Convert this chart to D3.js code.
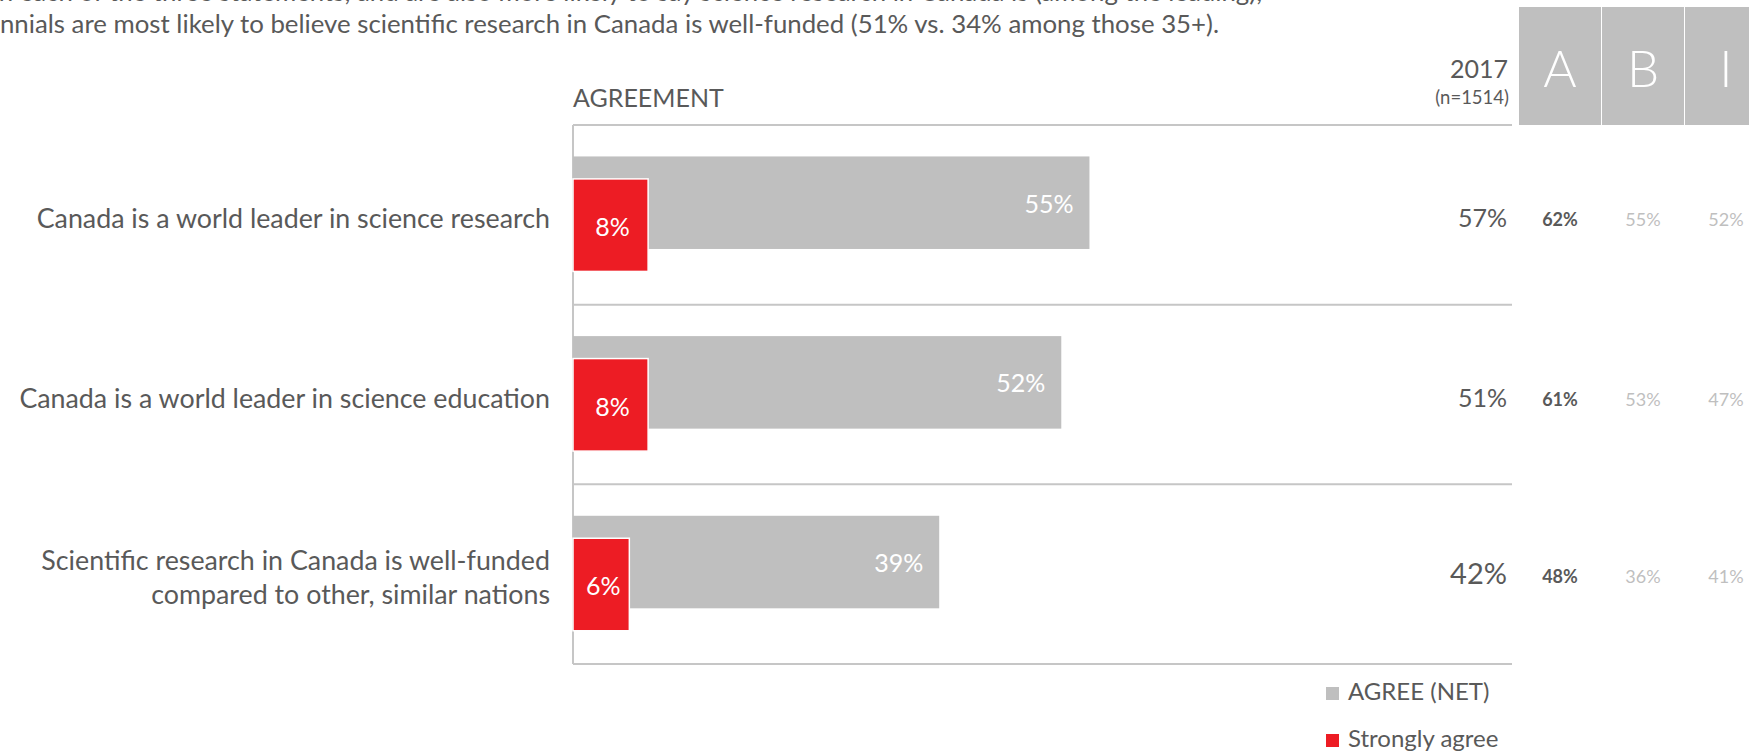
<!DOCTYPE html>
<html>
<head>
<meta charset="utf-8">
<script src="https://cdn.jsdelivr.net/npm/d3@7"></script>
<style>
  html, body { margin: 0; padding: 0; background: #fff; }
  svg { display: block; }
  text { font-family: Lato, "Open Sans", sans-serif; }
</style>
</head>
<body>
<svg id="chart" width="1749" height="754"></svg>
<script>
// Survey statements and agreement shares (%)
const categories = [
  "Canada is a world leader in science research",
  "Canada is a world leader in science education",
  "Scientific research in Canada is well-funded\ncompared to other, similar nations"
];
const agreeNet = [55, 52, 39];
const stronglyAgree = [8, 8, 6];

// Right-hand table: 2017 total and three sub-groups
const totalYear = "2017";
const totalBase = "(n=1514)";
const total2017 = [57, 51, 42];
const groupLabels = ["A", "B", "I"];
const groupA = [62, 61, 48];
const groupB = [55, 53, 36];
const groupI = [52, 47, 41];

const seriesNames = ["AGREE (NET)", "Strongly agree"];
const subtitleLines = [
  "Millennials are more likely to agree with each of the three statements, and are also more likely to say science research in Canada is (among the leading),",
  "Millennials are most likely to believe scientific research in Canada is well-funded (51% vs. 34% among those 35+)."
];

const GREY = "#bfbfbf", RED = "#ed1c24", TEXT = "#595959", LINE = "#c6c6c6";

const svg = d3.select("#chart");

const x = d3.scaleLinear().domain([0, 100]).range([573, 1512]);
const y = d3.scaleBand().domain(categories).range([125, 664]).padding(0);
const bw = y.bandwidth();

// Subtitle text, running past the top and left edges
svg.append("text").attr("x", 1262).attr("y", 1).attr("text-anchor", "end")
  .attr("font-size", 25.8).attr("fill", TEXT).text(subtitleLines[0]);
svg.append("text").attr("x", 1219).attr("y", 33).attr("text-anchor", "end")
  .attr("font-size", 25.8).attr("fill", TEXT).text(subtitleLines[1]);

// Section heading
svg.append("text").attr("x", x(0)).attr("y", 107)
  .attr("font-size", 25).attr("fill", TEXT).text("AGREEMENT");

// Frame: top border, row separators and left axis
const g = svg.append("g");
g.selectAll("line.sep")
  .data(categories.map(c => y(c)).concat([y.range()[1]]))
  .join("line").attr("class", "sep")
  .attr("x1", x(0)).attr("x2", x(100))
  .attr("y1", d => d).attr("y2", d => d)
  .attr("stroke", LINE).attr("stroke-width", 2);
g.append("line").attr("x1", x(0)).attr("x2", x(0))
  .attr("y1", y.range()[0]).attr("y2", y.range()[1])
  .attr("stroke", LINE).attr("stroke-width", 2);

// Agree (net) bars
const greyOff = bw * 0.175, redOff = bw * 0.30, barH = bw * 0.515;
g.selectAll("rect.net").data(agreeNet).join("rect").attr("class", "net")
  .attr("x", x(0)).attr("y", (d, i) => y(categories[i]) + greyOff)
  .attr("width", d => x(d) - x(0)).attr("height", barH)
  .attr("fill", GREY);
g.selectAll("text.net").data(agreeNet).join("text").attr("class", "net")
  .attr("x", d => x(d) - 16)
  .attr("y", (d, i) => y(categories[i]) + greyOff + barH / 2 + 10)
  .attr("text-anchor", "end").attr("font-size", 25).attr("fill", "#fff")
  .text(d => d + "%");

// Strongly agree bars
g.selectAll("rect.strong").data(stronglyAgree).join("rect").attr("class", "strong")
  .attr("x", x(0)).attr("y", (d, i) => y(categories[i]) + redOff)
  .attr("width", d => x(d) - x(0)).attr("height", barH)
  .attr("fill", RED).attr("stroke", "#fff").attr("stroke-width", 1.5);
g.selectAll("text.strong").data(stronglyAgree).join("text").attr("class", "strong")
  .attr("x", d => (x(0) + x(d)) / 2 + 2)
  .attr("y", (d, i) => y(categories[i]) + redOff + barH / 2 + 11)
  .attr("text-anchor", "middle").attr("font-size", 25).attr("fill", "#fff")
  .text(d => d + "%");

// Category labels
g.selectAll("text.cat").data(categories).join("text").attr("class", "cat")
  .attr("text-anchor", "end").attr("font-size", 26.8).attr("fill", TEXT)
  .each(function (d) {
    const lines = d.split("\n");
    const cy = y(d) + bw / 2;
    const lh = 34;
    d3.select(this).selectAll("tspan").data(lines).join("tspan")
      .attr("x", 550)
      .attr("y", (l, i) => cy + 13 + (i - (lines.length - 1) / 2) * lh)
      .text(l => l);
  });

// 2017 column
svg.append("text").attr("x", 1508).attr("y", 78).attr("text-anchor", "end")
  .attr("font-size", 25).attr("fill", TEXT).text(totalYear);
svg.append("text").attr("x", 1509).attr("y", 104).attr("text-anchor", "end")
  .attr("font-size", 18.5).attr("fill", TEXT).text(totalBase);
g.selectAll("text.tot").data(total2017).join("text").attr("class", "tot")
  .attr("x", 1507)
  .attr("y", (d, i) => y(categories[i]) + bw / 2 + (i === 2 ? 10 : 12))
  .attr("text-anchor", "end")
  .attr("font-size", (d, i) => i === 2 ? 29 : 25)
  .attr("fill", TEXT).text(d => d + "%");

// Sub-group columns
const colX = d3.scalePoint().domain(groupLabels).range([1560, 1726]);
const colW = 82;
svg.selectAll("rect.hdr").data(groupLabels).join("rect").attr("class", "hdr")
  .attr("x", d => colX(d) - colW / 2).attr("y", 7)
  .attr("width", colW).attr("height", 125 - 7)
  .attr("fill", GREY);
svg.selectAll("text.hdr").data(groupLabels).join("text").attr("class", "hdr")
  .attr("x", d => colX(d)).attr("y", 87)
  .attr("text-anchor", "middle").attr("font-size", 51).attr("font-weight", 300)
  .attr("fill", "#fff").text(d => d);

const groupValues = [groupA, groupB, groupI];
groupValues.forEach((vals, gi) => {
  svg.selectAll("text.grp" + gi).data(vals).join("text").attr("class", "grp" + gi)
    .attr("x", colX(groupLabels[gi]))
    .attr("y", (d, i) => y(categories[i]) + bw / 2 + (i === 2 ? 9 : 11))
    .attr("text-anchor", "middle").attr("font-size", 18)
    .attr("font-weight", gi === 0 ? 700 : 400)
    .attr("fill", gi === 0 ? TEXT : GREY)
    .text(d => d + "%");
});

// Legend
const legend = svg.append("g");
const legendColors = [GREY, RED];
seriesNames.forEach((name, i) => {
  const ly = 700 + i * 47;
  legend.append("rect").attr("x", 1326).attr("y", ly - 13)
    .attr("width", 13).attr("height", 13).attr("fill", legendColors[i]);
  legend.append("text").attr("x", 1348).attr("y", ly)
    .attr("font-size", 24).attr("fill", TEXT).text(name);
});
</script>
</body>
</html>
